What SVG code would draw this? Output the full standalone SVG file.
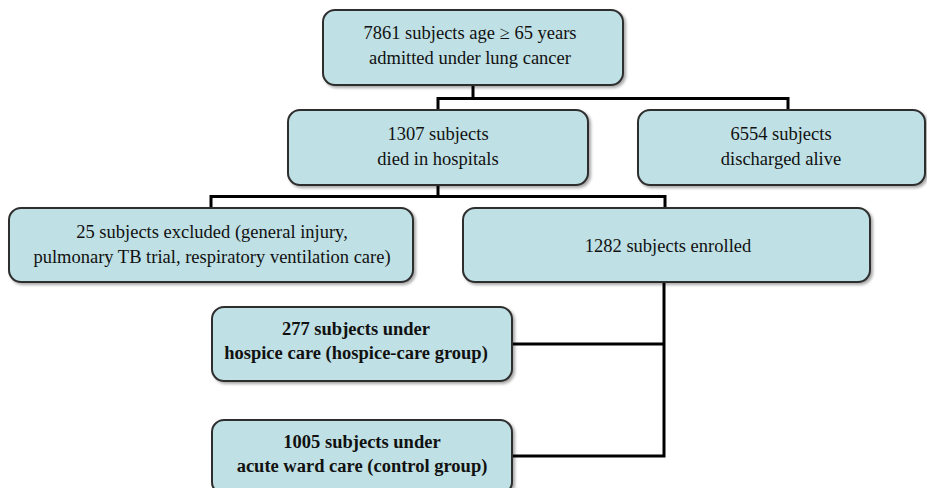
<svg xmlns="http://www.w3.org/2000/svg" width="927" height="488" viewBox="0 0 927 488">
<defs>
<filter id="sh" x="-5%" y="-10%" width="115%" height="130%">
<feGaussianBlur in="SourceAlpha" stdDeviation="1.5"/>
<feOffset dx="2" dy="2" result="b"/>
<feComponentTransfer><feFuncA type="linear" slope="0.35"/></feComponentTransfer>
<feMerge><feMergeNode/><feMergeNode in="SourceGraphic"/></feMerge>
</filter>
</defs>
<style>
.box{fill:#bfe0e4;stroke:#2e2e2e;stroke-width:2;filter:url(#sh)}
.t{font-family:"Liberation Serif","Times New Roman",serif;font-size:18.5px;fill:#111;text-anchor:middle}
.b{font-weight:bold}
.c{fill:none;stroke:#000;stroke-width:3}
</style>
<g id="connectors">
<polyline class="c" points="473,85 473,98.5"/>
<polyline class="c" points="438,110 438,98.5 788,98.5 788,110"/>
<polyline class="c" points="438,185 438,196.5"/>
<polyline class="c" points="211,208 211,196.5 665,196.5 665,208"/>
<polyline class="c" points="512,344 664,344"/>
<polyline class="c" points="664,282 664,456 512,456"/>
</g>
<g id="n1">
<rect class="box" x="323" y="10" width="300" height="75" rx="12"/>
<text class="t" x="470" y="39">7861 subjects age ≥ 65 years</text>
<text class="t" x="470" y="64">admitted under lung cancer</text>
</g>
<g id="n2">
<rect class="box" x="288" y="110" width="300" height="75" rx="12"/>
<text class="t" x="438" y="140">1307 subjects</text>
<text class="t" x="438" y="165">died in hospitals</text>
</g>
<g id="n3">
<rect class="box" x="638" y="110" width="287" height="75" rx="12"/>
<text class="t" x="781" y="140">6554 subjects</text>
<text class="t" x="781" y="165">discharged alive</text>
</g>
<g id="n4">
<rect class="box" x="9" y="208" width="404" height="74" rx="12"/>
<text class="t" x="212" y="238">25 subjects excluded (general injury,</text>
<text class="t" x="212" y="263">pulmonary TB trial, respiratory ventilation care)</text>
</g>
<g id="n5">
<rect class="box" x="463" y="208" width="407" height="74" rx="12"/>
<text class="t" x="668" y="252">1282 subjects enrolled</text>
</g>
<g id="n6">
<rect class="box" x="212" y="307" width="300" height="74" rx="12"/>
<text class="t b" x="356" y="335">277 subjects under</text>
<text class="t b" x="356" y="359">hospice care (hospice-care group)</text>
</g>
<g id="n7">
<rect class="box" x="212" y="420" width="300" height="74" rx="12"/>
<text class="t b" x="362" y="448">1005 subjects under</text>
<text class="t b" x="362" y="472">acute ward care (control group)</text>
</g>
</svg>
